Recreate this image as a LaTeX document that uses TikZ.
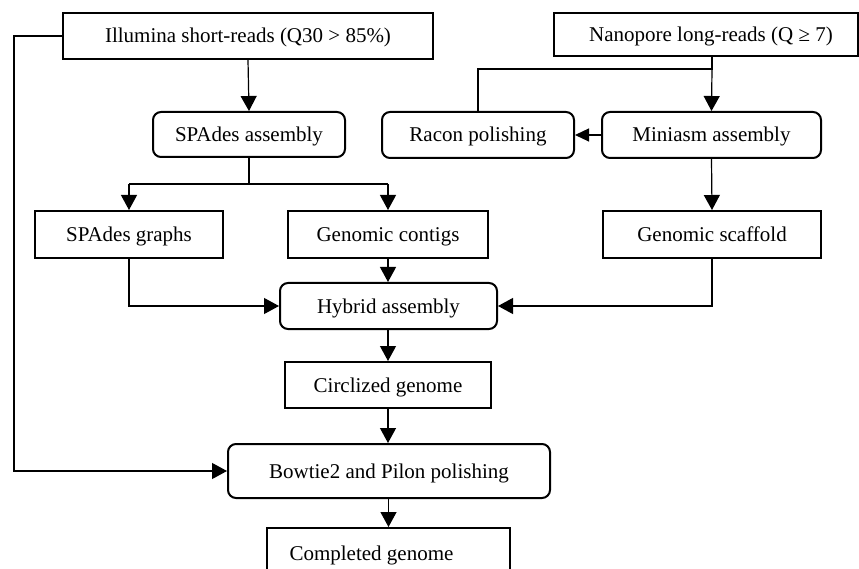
\documentclass[tikz,border=0pt]{standalone}
\usepackage{fontspec}
\setmainfont{Liberation Serif}
\usetikzlibrary{arrows.meta}
\begin{document}
\begin{tikzpicture}[x=1pt,y=-1pt,
  every node/.append style={font=\fontsize{21}{25}\selectfont, inner sep=0pt, text height=14pt, text depth=0pt},
  sqbox/.style={draw, line width=2pt, rectangle},
  rdbox/.style={draw, line width=2pt, rectangle, rounded corners=8pt},
  conn/.style={line width=1.2pt},
  arr/.style={conn, -{Triangle[width=16pt,length=15pt]}},
  arrs/.style={conn, -{Triangle[width=13pt,length=14pt]}}]
\useasboundingbox (0,0) rectangle (859,569);
\clip (0,0) rectangle (859,569);
% boxes
\node[sqbox, minimum width=370pt, minimum height=46pt] (ill) at (248,36) {Illumina short-reads (Q30 > 85\%)};
\node[sqbox, minimum width=304pt, minimum height=43pt] (nano) at (705.5,34.5) {\hspace*{11pt}Nanopore long-reads (Q ≥ 7)};
\node[rdbox, minimum width=192pt, minimum height=45pt] (spa) at (249,134.5) {SPAdes assembly};
\node[rdbox, minimum width=192pt, minimum height=46pt] (racon) at (478,135) {Racon polishing};
\node[rdbox, minimum width=219pt, minimum height=46pt] (mini) at (711.5,135) {Miniasm assembly};
\node[sqbox, minimum width=188pt, minimum height=47pt] (graphs) at (129,234.5) {SPAdes graphs};
\node[sqbox, minimum width=200pt, minimum height=47pt] (contigs) at (388,234.5) {Genomic contigs};
\node[sqbox, minimum width=218pt, minimum height=47pt] (scaf) at (712,234.5) {Genomic scaffold};
\node[rdbox, minimum width=217pt, minimum height=46pt] (hyb) at (388.5,306) {Hybrid assembly};
\node[sqbox, minimum width=206pt, minimum height=46pt] (circ) at (388,385) {Circlized genome};
\node[rdbox, minimum width=322pt, minimum height=54pt] (bow) at (389,471) {Bowtie2 and Pilon polishing};
\node[sqbox, minimum width=243pt, minimum height=50pt] (done) at (388.5,553) {Completed genome\hspace*{34pt}};
% junction coordinates
\coordinate (jl) at (14,36);
\coordinate (jlb) at (14,471);
\coordinate (jn) at (712,69);
\coordinate (jr) at (478,69);
\coordinate (js) at (249,184);
\coordinate (jsl) at (129,184);
\coordinate (jsr) at (388,184);
\coordinate (jgl) at (129,306);
\coordinate (jsc) at (712,306);
% connectors
\draw[arr] (ill.south) -- (spa.north);
\draw[arr] (jn) -- (mini.north);
\draw[conn] (nano.south -| jn) -- (jn) -- (jr) -- (racon.north);
\draw[arrs] (mini.west) -- (racon.east);
\draw[conn] (spa.south) -- (js);
\draw[arr] (jsl) -- (graphs.north);
\draw[arr] (jsr) -- (contigs.north);
\draw[conn] (jsl) -- (jsr);
\draw[arr] (mini.south) -- (scaf.north);
\draw[arr] (contigs.south) -- (hyb.north -| contigs.south);
\draw[arr] (graphs.south) -- (jgl) -- (hyb.west);
\draw[arr] (scaf.south) -- (jsc) -- (hyb.east);
\draw[arr] (hyb.south -| circ.north) -- (circ.north);
\draw[arr] (circ.south) -- (bow.north -| circ.south);
\draw[arr] (ill.west) -- (jl) -- (jlb) -- (bow.west);
\draw[arr] (bow.south -| done.north) -- (done.north);
\end{tikzpicture}
\end{document}
